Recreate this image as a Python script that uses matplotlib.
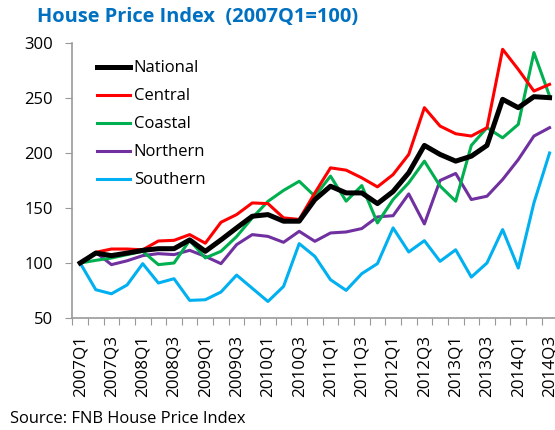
import numpy as np
import matplotlib
matplotlib.use('Agg')
import matplotlib.pyplot as plt

# quarters 2007Q1 .. 2014Q3
quarters = [f"{y}Q{q}" for y in range(2007, 2015) for q in range(1, 5)][:31]

national = [100, 109, 106.7, 109, 111.5, 113, 113, 121, 110.6, 121, 131.9, 142.5, 144, 138, 138,
            157.6, 169.8, 163.7, 163.7, 154, 165, 182, 206.9, 198.7, 192.6, 197.1, 206.9, 248.8,
            241.2, 251.2, 250.3]
central = [100, 109.7, 112.7, 112.7, 112, 120, 120.6, 125.8, 118, 137, 144, 154.6, 154, 141, 139.6,
           163.7, 186.5, 184.4, 177.4, 169.2, 180.4, 198.7, 241.2, 224.5, 217.5, 215.4, 223, 294.3,
           276, 256.3, 262.4]
coastal = [100, 102.4, 104.5, 107.6, 110.6, 98.5, 100, 120.6, 104.6, 110.6, 124, 141, 156, 166, 174.3,
           160.7, 179, 156.2, 170.4, 136.4, 157.7, 172.9, 192.6, 170, 156.2, 206.9, 223, 213.8, 226,
           291.3, 251.8]
northern = [100, 109.7, 98.5, 102, 106.7, 108.5, 107.6, 111.5, 106, 99.4, 116.7, 125.8, 124.2, 118.8,
            128.8, 119.7, 127.3, 128.2, 131.3, 141.9, 143, 162.8, 135.5, 175, 181.4, 157.7, 160.7,
            175.9, 194, 215.4, 223]
southern = [100, 75.7, 72, 80, 99.4, 81.8, 85.7, 66, 66.6, 73.6, 89, 77, 65, 78.7, 117.6, 106, 84.8,
            75.1, 90.3, 99.4, 131.9, 110, 120.3, 101.5, 112, 87.2, 100, 130.4, 95.4, 154.6, 200]

plt.rcParams['font.family'] = ['Open Sans', 'DejaVu Sans']

fig = plt.figure(figsize=(5.55, 4.3), dpi=100)
ax = fig.add_axes([0.1303, 0.2605, 0.874, 0.6395])

x = np.arange(len(quarters))
ax.plot(x, national, color='#000000', lw=3.6, label='National', zorder=6)
ax.plot(x, central, color='#FF0000', lw=2.2, label='Central', zorder=5)
ax.plot(x, coastal, color='#00B050', lw=2.2, label='Coastal', zorder=4)
ax.plot(x, northern, color='#7030A0', lw=2.2, label='Northern', zorder=3)
ax.plot(x, southern, color='#00B0F0', lw=2.2, label='Southern', zorder=2)

ax.set_xlim(-0.5, 30.5)
ax.set_ylim(50, 300)
ax.set_yticks(range(50, 301, 50))

ax.set_xticks(np.arange(-0.5, 31, 1))
ax.set_xticklabels([])
ax.set_xticks(x[::2], minor=True)
ax.set_xticklabels(quarters[::2], minor=True, rotation=90, fontsize=12.3)
ax.tick_params(axis='x', which='major', length=5, color='#999999', direction='out')
ax.tick_params(axis='x', which='minor', length=0, pad=12)
ax.tick_params(axis='y', length=5, color='#999999', labelsize=12, pad=9)

for s in ['top', 'right']:
    ax.spines[s].set_visible(False)
for s in ['left', 'bottom']:
    ax.spines[s].set_color('#999999')
    ax.spines[s].set_linewidth(1.2)

ax.legend(loc='upper left', bbox_to_anchor=(0.163, 0.875), bbox_transform=fig.transFigure,
          frameon=False, fontsize=12, handlelength=2.0, handletextpad=0.2, labelspacing=0.72,
          borderaxespad=0)

fig.text(0.067, 0.96, 'House Price Index  (2007Q1=100)', color='#0070C0', fontsize=14.4,
         fontweight='bold', va='center', ha='left')
fig.text(0.018, 0.026, 'Source: FNB House Price Index', fontsize=11.9, va='center', ha='left')

fig.savefig('out.png', dpi=100)
